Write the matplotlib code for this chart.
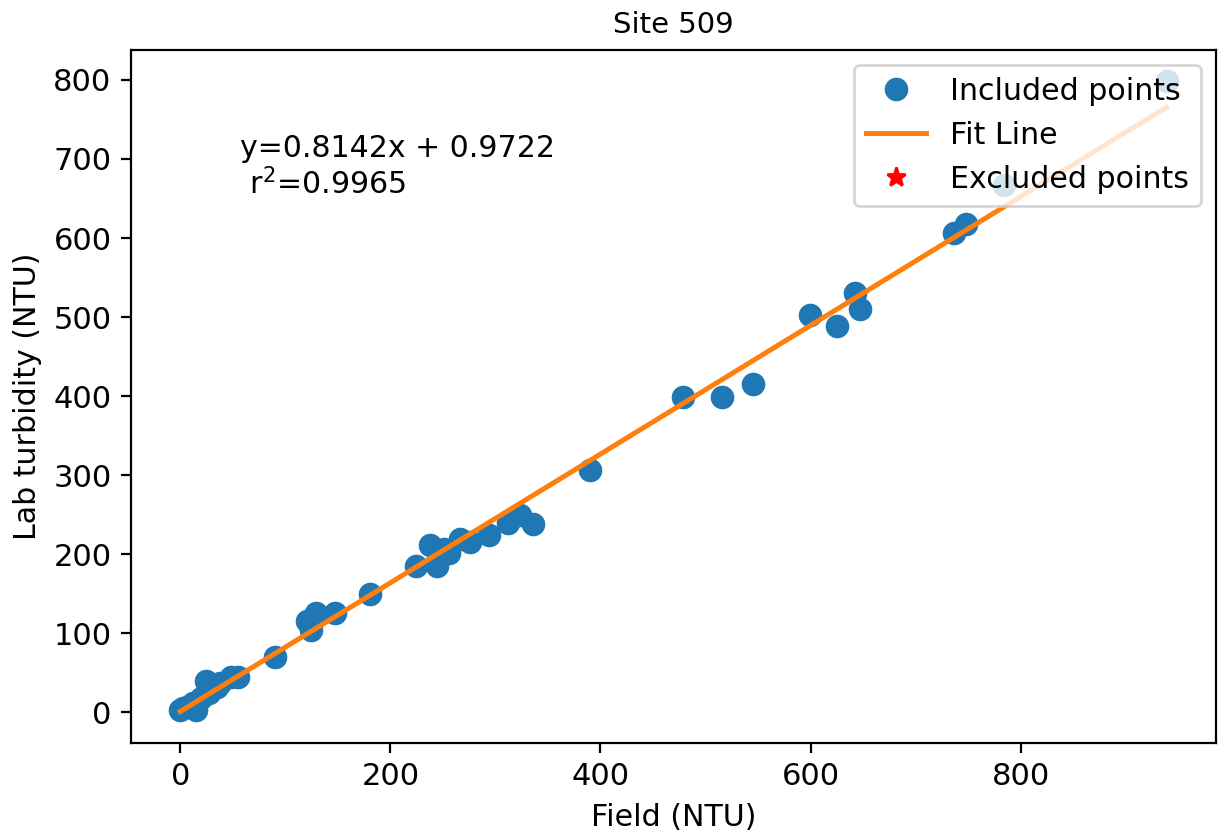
import matplotlib
matplotlib.use('Agg')
import matplotlib.pyplot as plt
import numpy as np

# Valores
field = [0, 3, 8, 12, 15, 20, 24, 27, 35, 38, 48, 55, 90,
         121, 124, 129, 147, 181, 224, 238, 244, 251, 256, 266, 276,
         294, 312, 323, 336, 390, 479, 516, 545, 599, 625, 642, 647,
         737, 748, 784, 939]
lab = [3, 5, 8, 12, 3, 18, 40, 24, 32, 37, 45, 45, 70,
       115, 104, 126, 125, 150, 185, 212, 185, 206, 202, 219, 215,
       224, 240, 250, 238, 306, 399, 399, 415, 503, 489, 530, 510,
       606, 618, 667, 798]
excluded_x = []
excluded_y = []
slope = 0.8142
intercept = 0.9722
r2 = 0.9965
site = 509

fig = plt.figure(figsize=(6.09, 4.18), dpi=200)
ax = fig.add_axes([131 / 1218, (836 - 743) / 836, (1216 - 131) / 1218, (743 - 50) / 836])

ax.plot(field, lab, 'o', color='tab:blue', markersize=7.5, label='Included points')
xfit = np.array([min(field), max(field)])
ax.plot(xfit, slope * xfit + intercept, '-', color='tab:orange', linewidth=1.8, label='Fit Line')
ax.plot(excluded_x, excluded_y, '*', color='red', markersize=7, label='Excluded points')

ax.text(57, 732, 'y=%.4fx + %.4f\n r$^2$=%.4f' % (slope, intercept, r2),
        ha='left', va='top', fontsize=10.8)

ax.set_title('Site %d' % site, fontsize=10.5)
ax.set_xlabel('Field (NTU)', fontsize=10.8)
ax.set_ylabel('Lab turbidity (NTU)', fontsize=10.8)
ax.tick_params(labelsize=11)
ax.set_xticks([0, 200, 400, 600, 800])
ax.legend(loc='upper right', fontsize=10.8)

fig.savefig('out.png', dpi=200)
